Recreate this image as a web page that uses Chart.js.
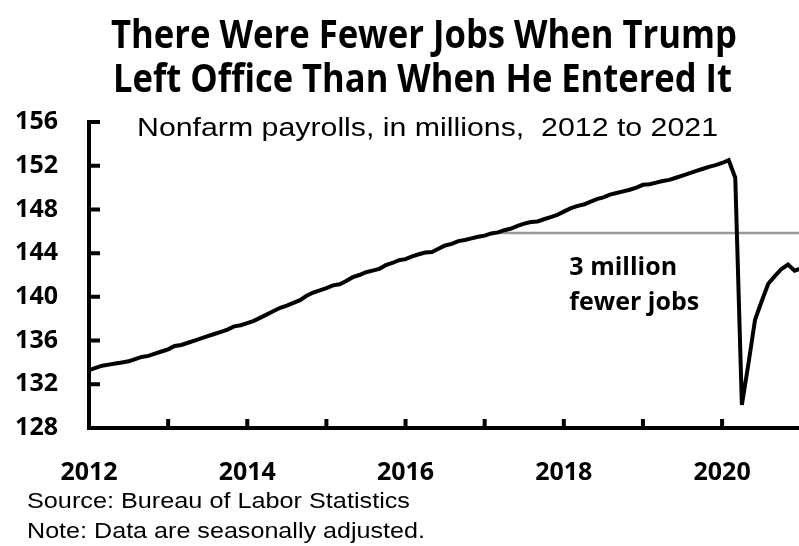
<!DOCTYPE html>
<html>
<head>
<meta charset="utf-8">
<script src="https://cdn.jsdelivr.net/npm/chart.js@4.4.0/dist/chart.umd.min.js"></script>
<style>
body { margin: 0; background: #fff; }
#wrap { position: relative; width: 799px; height: 546px; overflow: hidden; background: #fff; }
#c { position: absolute; left: 0; top: 0; }
.txt { position: absolute; white-space: nowrap; line-height: 1; transform-origin: 0 0; color: #000; }
.title { font-family: 'Open Sans'; font-weight: 700; font-size: 40px; }
.sub { font-family: 'Liberation Sans'; font-size: 25px; }
.note { font-family: 'Liberation Sans Narrow', 'Liberation Sans'; font-size: 22px; }
</style>
</head>
<body>
<div id="wrap">
  <canvas id="c" width="799" height="546"></canvas>
  <div class="txt title" style="left:111px; top:13px" data-w="626">There Were Fewer Jobs When Trump</div>
  <div class="txt title" style="left:113px; top:57px" data-w="619">Left Office Than When He Entered It</div>
  <div class="txt sub" style="left:137px; top:115px" data-w="581">Nonfarm payrolls, in millions,&nbsp; 2012 to 2021</div>
  <div class="txt note" style="left:27px; top:490px" data-w="383">Source: Bureau of Labor Statistics</div>
  <div class="txt note" style="left:27px; top:520px" data-w="398">Note: Data are seasonally adjusted.</div>
</div>
<script>
// monthly nonfarm payrolls, millions
var jobs2012 = [133.3, 133.5, 133.7, 133.8, 133.9, 134.0, 134.1, 134.3, 134.5, 134.6, 134.8, 135.0];
var jobs2013 = [135.2, 135.5, 135.6, 135.8, 136.0, 136.2, 136.4, 136.6, 136.8, 137.0, 137.3, 137.4];
var jobs2014 = [137.6, 137.8, 138.1, 138.4, 138.7, 139.0, 139.2, 139.45, 139.7, 140.1, 140.4, 140.6];
var jobs2015 = [140.8, 141.05, 141.15, 141.45, 141.8, 142.0, 142.25, 142.4, 142.55, 142.9, 143.1, 143.35];
var jobs2016 = [143.45, 143.7, 143.9, 144.05, 144.1, 144.4, 144.7, 144.85, 145.1, 145.2, 145.35, 145.5];
var jobs2017 = [145.6, 145.8, 145.9, 146.1, 146.25, 146.5, 146.7, 146.85, 146.9, 147.1, 147.3, 147.5];
var jobs2018 = [147.8, 148.1, 148.3, 148.45, 148.7, 148.95, 149.1, 149.35, 149.5, 149.65, 149.8, 150.0];
var jobs2019 = [150.25, 150.3, 150.45, 150.6, 150.7, 150.9, 151.1, 151.3, 151.5, 151.7, 151.9, 152.05];
var jobs2020 = [152.25, 152.5, 150.9, 130.1, 133.9, 137.9, 139.6, 141.2, 141.9, 142.55, 142.95, 142.4];
var jobs2021 = [142.6];

var tickYears = [2012, 2014, 2016, 2018, 2020];
var yTicks = [128, 132, 136, 140, 144, 148, 152, 156];

// grey reference line: level when Trump took office
var refStart = 2017.14;
var refEnd = 2021.3;
var refLevel = 145.85;

// annotation
var noteLines = ['3 million', 'fewer jobs'];
var noteX = 2018.07;
var noteY = [142.0, 138.8];

var allJobs = [].concat(jobs2012, jobs2013, jobs2014, jobs2015, jobs2016,
                        jobs2017, jobs2018, jobs2019, jobs2020, jobs2021);
var points = [];
for (var i = 0; i < allJobs.length; i++) {
    points.push({x: 2012 + i / 12, y: allJobs[i]});
}

var extras = {
    id: 'extras',
    afterDraw: function(chart) {
        var ctx = chart.ctx, area = chart.chartArea;
        var x = chart.scales.x, y = chart.scales.y;
        ctx.save();
        ctx.strokeStyle = '#000';
        ctx.lineWidth = 4;
        ctx.beginPath();
        yTicks.forEach(function(v) {
            var py = y.getPixelForValue(v);
            ctx.moveTo(area.left, py);
            ctx.lineTo(area.left + 11, py);
        });
        for (var yr = 2013; yr <= 2020; yr++) {
            var px = x.getPixelForValue(yr);
            ctx.moveTo(px, area.bottom);
            ctx.lineTo(px, area.bottom - 9);
        }
        ctx.stroke();

        ctx.font = 'bold 25px "Open Sans"';
        ctx.fillStyle = '#000';
        ctx.textAlign = 'left';
        ctx.textBaseline = 'alphabetic';
        var ax = x.getPixelForValue(noteX);
        noteLines.forEach(function(s, k) {
            ctx.fillText(s, ax, y.getPixelForValue(noteY[k]));
        });
        ctx.restore();
    }
};

function fitTexts() {
    document.querySelectorAll('.txt').forEach(function(el) {
        el.style.transform = '';
        var w = el.getBoundingClientRect().width;
        var target = parseFloat(el.getAttribute('data-w'));
        el.style.transform = 'scaleX(' + (target / w) + ')';
    });
}

function buildChart() {
    var ctx = document.getElementById('c').getContext('2d');
    new Chart(ctx, {
        type: 'line',
        data: {
            datasets: [{
                data: points,
                borderColor: '#000',
                borderWidth: 4,
                pointRadius: 0,
                tension: 0,
                order: 0
            }, {
                data: [{x: refStart, y: refLevel}, {x: refEnd, y: refLevel}],
                borderColor: '#999',
                borderWidth: 2.5,
                pointRadius: 0,
                order: 1
            }]
        },
        options: {
            responsive: false,
            animation: false,
            events: [],
            layout: { padding: { top: 122, right: 0, bottom: 0, left: 0 } },
            plugins: { legend: { display: false }, tooltip: { enabled: false } },
            scales: {
                x: {
                    type: 'linear',
                    min: 2012,
                    max: 2020.972,
                    afterFit: function(scale) {
                        scale.height = 118;
                        scale.paddingRight = 0;
                    },
                    grid: { display: false, drawTicks: false },
                    border: { display: true, color: '#000', width: 4 },
                    ticks: {
                        stepSize: 1,
                        includeBounds: false,
                        autoSkip: false,
                        maxRotation: 0,
                        padding: 30,
                        color: '#000',
                        font: { family: 'Open Sans', weight: 'bold', size: 25 },
                        callback: function(v) { return tickYears.indexOf(v) >= 0 ? String(v) : ''; }
                    }
                },
                y: {
                    min: 128,
                    max: 156,
                    afterFit: function(scale) { scale.width = 89; },
                    grid: { display: false, drawTicks: false },
                    border: { display: true, color: '#000', width: 4 },
                    ticks: {
                        stepSize: 4,
                        padding: 31,
                        color: '#000',
                        font: { family: 'Open Sans', weight: 'bold', size: 25 }
                    }
                }
            }
        },
        plugins: [extras]
    });
}

document.fonts.ready.then(function() {
    fitTexts();
});
buildChart();
</script>
</body>
</html>
